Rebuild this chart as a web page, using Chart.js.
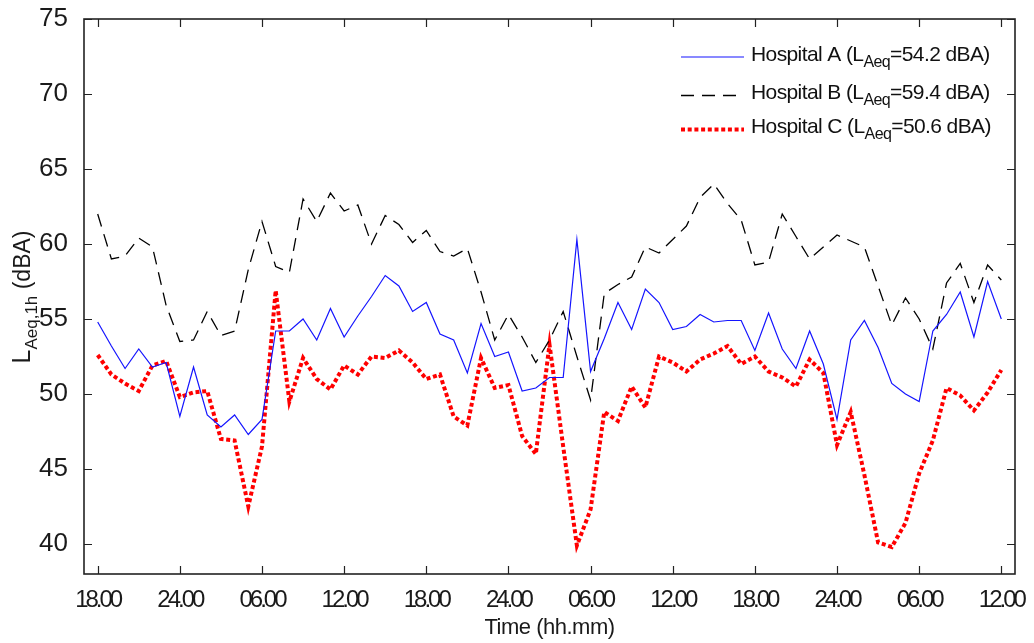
<!DOCTYPE html>
<html><head><meta charset="utf-8">
<script src="https://cdn.jsdelivr.net/npm/chart.js@4.4.0/dist/chart.umd.min.js"></script>
<style>html,body{margin:0;padding:0;background:#fff}canvas{display:block}</style>
</head><body>
<canvas id="c" width="1034" height="643" style="width:1034px;height:643px"></canvas>
<script>
// hourly samples, index 0 = 18:00 of day 1, index 66 = 12:00 of day 4
const hospitalA = [54.8,53.2,51.7,53.0,51.8,52.1,48.5,51.8,48.6,47.8,48.6,47.3,48.3,54.2,54.2,55.0,53.6,55.7,53.8,55.2,
  56.5,57.9,57.2,55.5,56.1,54.0,53.6,51.4,54.7,52.5,52.8,50.2,50.4,51.1,51.1,60.3,51.5,53.7,56.1,54.3,
  57.0,56.1,54.3,54.5,55.3,54.8,54.9,54.9,52.9,55.4,53.0,51.7,54.2,52.0,48.3,53.6,54.9,53.1,50.7,50.0,
  49.5,54.2,55.3,56.8,53.8,57.5,55.0];
const hospitalB = [62.0,59.0,59.2,60.4,59.8,55.9,53.5,53.6,55.5,53.9,54.2,58.3,61.5,58.5,58.1,63.0,61.5,63.4,62.2,62.6,
  60.0,61.9,61.3,60.1,60.9,59.5,59.2,59.7,56.8,53.6,55.3,53.8,52.1,53.6,55.5,52.5,49.6,56.7,57.3,57.8,
  59.8,59.4,60.3,61.2,63.1,64.0,62.7,61.6,58.6,58.8,62.0,60.5,59.0,59.8,60.6,60.2,59.8,57.2,54.6,56.4,
  55.0,53.0,57.4,58.7,56.1,58.6,57.6];
const hospitalC = [52.6,51.3,50.7,50.2,51.9,52.2,49.8,50.1,50.2,47.0,46.9,42.5,46.5,56.9,49.5,52.4,51.0,50.3,51.9,51.3,
  52.5,52.4,52.9,52.1,51.0,51.3,48.5,47.9,52.4,50.4,50.6,47.2,46.0,53.3,46.5,39.9,42.3,48.8,48.2,50.5,
  49.1,52.5,52.1,51.5,52.3,52.7,53.2,52.0,52.5,51.5,51.1,50.5,52.3,51.4,46.6,48.8,44.6,40.1,39.8,41.4,
  44.7,46.9,50.4,49.9,48.9,50.1,51.6];
const seriesNames = ['Hospital A','Hospital B','Hospital C'];
const laeqValues = ['54.2','59.4','50.6'];
const xTickValues = [0,6,12,18,24,30,36,42,48,54,60,66];
const xTickLabels = ['18.00','24.00','06.00','12.00','18.00','24.00','06.00','12.00','18.00','24.00','06.00','12.00'];
const yTickValues = [40,45,50,55,60,65,70,75];

const FONT = "'Liberation Sans', Arial, sans-serif";
const toPts = arr => arr.map((v, i) => ({x: i, y: v}));

const framePlugin = {
  id: 'frame',
  beforeDraw(chart) {
    const s = chart.scales.x;
    if (!s._patched) {
      const orig = s.drawLabels;
      s.drawLabels = function(a) { const c = this.ctx; c.save(); c.letterSpacing = '-3px'; orig.call(this, a); c.restore(); };
      const origT = s.drawTitle;
      s.drawTitle = function(a) { const c = this.ctx; c.save(); c.letterSpacing = '-0.5px'; origT.call(this, a); c.restore(); };
      s._patched = true;
    }
  },
  afterDraw(chart) {
    const {ctx, chartArea: a, scales: {x, y}} = chart;
    ctx.save();
    ctx.strokeStyle = '#222';
    ctx.lineWidth = 1.6;
    ctx.strokeRect(a.left, a.top, a.right - a.left, a.bottom - a.top);
    ctx.lineWidth = 1.2;
    ctx.beginPath();
    xTickValues.forEach(v => {
      const px = Math.round(x.getPixelForValue(v)) + 0.5;
      ctx.moveTo(px, a.bottom); ctx.lineTo(px, a.bottom - 8);
      ctx.moveTo(px, a.top); ctx.lineTo(px, a.top + 8);
    });
    yTickValues.forEach(v => {
      const py = Math.round(y.getPixelForValue(v)) + 0.5;
      ctx.moveTo(a.left, py); ctx.lineTo(a.left + 8, py);
      ctx.moveTo(a.right, py); ctx.lineTo(a.right - 8, py);
    });
    ctx.stroke();

    // y-axis title with subscript
    ctx.fillStyle = '#1a1a1a';
    ctx.textBaseline = 'alphabetic';
    ctx.textAlign = 'left';
    const parts = [
      {t: 'L', f: '25px ' + FONT, dy: 0},
      {t: 'Aeq,1h', f: '17px ' + FONT, dy: 7},
      {t: ' (dBA)', f: '23px ' + FONT, dy: 0}
    ];
    let total = 0;
    parts.forEach(p => { ctx.font = p.f; p.w = ctx.measureText(p.t).width; total += p.w; });
    ctx.translate(30, 297);
    ctx.rotate(-Math.PI / 2);
    let cx = -total / 2;
    parts.forEach(p => { ctx.font = p.f; ctx.fillText(p.t, cx, p.dy); cx += p.w; });
    ctx.restore();

    // legend
    ctx.save();
    const rows = [57, 95.5, 129.5];
    chart.data.datasets.forEach((ds, i) => {
      const yy = rows[i];
      ctx.strokeStyle = ds.borderColor;
      ctx.lineWidth = ds.borderWidth;
      ctx.setLineDash(ds.borderDash || []);
      ctx.beginPath(); ctx.moveTo(681, yy); ctx.lineTo(744, yy); ctx.stroke();
      ctx.setLineDash([]);
      ctx.fillStyle = '#111';
      ctx.textBaseline = 'alphabetic';
      ctx.letterSpacing = '-0.6px';
      let tx = 751;
      const by = yy + 3.5;
      ctx.font = '21px ' + FONT;
      const t1 = seriesNames[i] + ' (L';
      ctx.fillText(t1, tx, by); tx += ctx.measureText(t1).width;
      ctx.font = '16px ' + FONT;
      ctx.fillText('Aeq', tx, by + 6); tx += ctx.measureText('Aeq').width;
      ctx.font = '21px ' + FONT;
      ctx.fillText('=' + laeqValues[i] + ' dBA)', tx, by);
    });
    ctx.restore();
  }
};

new Chart(document.getElementById('c'), {
  type: 'line',
  data: {
    datasets: [
      {label: seriesNames[0], data: toPts(hospitalA), borderColor: 'rgb(20,20,255)', borderWidth: 1.2, pointRadius: 0, tension: 0, fill: false},
      {label: seriesNames[1], data: toPts(hospitalB), borderColor: '#000', borderWidth: 1.3, borderDash: [13, 8], pointRadius: 0, tension: 0, fill: false},
      {label: seriesNames[2], data: toPts(hospitalC), borderColor: 'rgb(255,0,0)', borderWidth: 4, borderDash: [4, 2.7], borderCapStyle: 'butt', pointRadius: 0, tension: 0, fill: false}
    ]
  },
  options: {
    responsive: false,
    animation: false,
    events: [],
    layout: {padding: {top: 19, right: 19, left: 0, bottom: 0}},
    plugins: {legend: {display: false}, tooltip: {enabled: false}},
    scales: {
      x: {
        type: 'linear', min: -1, max: 67,
        afterBuildTicks: s => { s.ticks = xTickValues.map(v => ({value: v})); },
        afterFit: s => { s.height = 69; s.paddingLeft = 0; s.paddingRight = 0; },
        ticks: {
          autoSkip: false, maxRotation: 0, minRotation: 0, padding: 12, color: '#1a1a1a',
          font: {family: FONT, size: 24},
          callback: v => xTickLabels[xTickValues.indexOf(v)]
        },
        grid: {display: false, drawTicks: false},
        border: {display: false},
        title: {display: true, text: 'Time (hh.mm)', color: '#1a1a1a', font: {family: FONT, size: 22}, padding: {top: 0, bottom: 2}}
      },
      y: {
        min: 38, max: 75,
        afterBuildTicks: s => { s.ticks = yTickValues.map(v => ({value: v})); },
        afterFit: s => { s.width = 84; s.paddingTop = 0; s.paddingBottom = 0; },
        ticks: {padding: 16, color: '#1a1a1a', font: {family: FONT, size: 26}},
        grid: {display: false, drawTicks: false},
        border: {display: false}
      }
    }
  },
  plugins: [framePlugin]
});
</script>
</body></html>
